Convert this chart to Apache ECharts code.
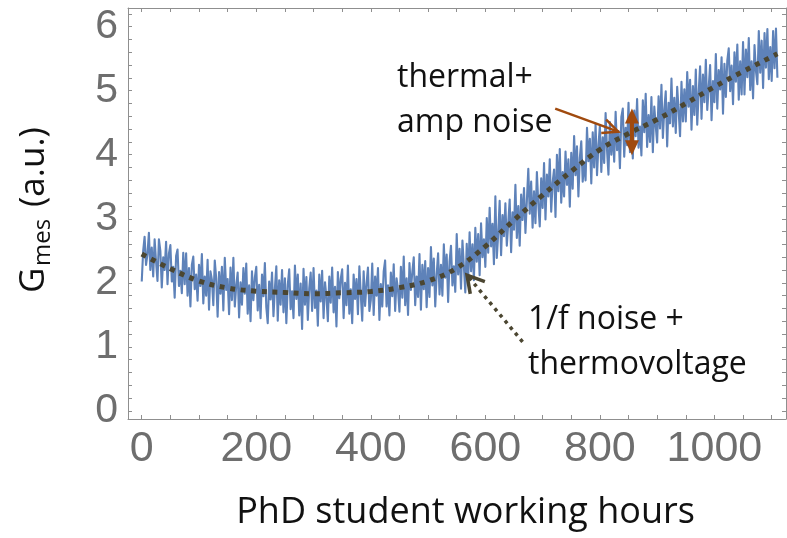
<!DOCTYPE html>
<html>
<head>
<meta charset="utf-8">
<script src="https://cdn.jsdelivr.net/npm/echarts@6/dist/echarts.min.js"></script>
<style>
  html, body { margin: 0; padding: 0; background: #ffffff; }
  #chart { width: 787px; height: 538px; }
</style>
</head>
<body>
<div id="chart"></div>
<script>
// Measured signal, one sample every 2.5 working hours starting at hour 0
const sampleStart = 0;
const sampleStep = 2.5;
const measured = [
  2.02, 2.50, 2.72, 2.28, 2.45, 2.78, 2.20, 2.55, 2.10, 2.68,
  2.33, 2.03, 2.68, 2.50, 1.93, 2.40, 2.20, 2.64, 1.98, 2.46,
  2.59, 2.02, 2.25, 1.77, 2.42, 2.52, 1.95, 2.19, 1.84, 2.47,
  1.98, 2.46, 1.80, 2.23, 1.63, 2.28, 2.41, 1.90, 2.13, 1.72,
  2.28, 1.95, 2.45, 1.68, 2.10, 1.80, 2.36, 1.58, 2.18, 2.05,
  1.65, 2.35, 2.07, 1.47, 2.17, 1.83, 2.25, 1.57, 2.39, 1.89,
  2.06, 1.51, 2.24, 1.73, 2.39, 1.63, 1.96, 2.16, 1.46, 2.01,
  1.66, 2.23, 1.83, 2.30, 1.52, 1.96, 1.40, 2.18, 1.73, 2.08,
  2.25, 1.57, 1.97, 1.45, 2.13, 1.79, 2.31, 1.62, 1.37, 2.02,
  1.74, 2.16, 1.48, 1.91, 2.26, 1.41, 2.04, 1.66, 2.20, 1.54,
  2.07, 1.37, 1.97, 2.21, 1.59, 1.87, 1.45, 2.27, 1.75, 2.13,
  1.49, 1.99, 1.28, 2.22, 1.66, 2.09, 1.42, 1.92, 2.16, 1.56,
  2.23, 1.61, 1.88, 1.33, 2.13, 1.71, 2.19, 1.45, 2.01, 1.78,
  1.40, 2.10, 1.69, 2.24, 1.54, 1.94, 1.32, 2.17, 1.76, 2.06,
  2.21, 1.45, 2.00, 1.65, 2.27, 1.52, 1.90, 1.37, 2.13, 1.75,
  2.06, 1.51, 2.26, 1.81, 1.41, 2.18, 1.64, 1.98, 2.24, 1.56,
  1.73, 2.30, 1.50, 2.10, 1.80, 2.23, 1.42, 1.98, 1.63, 2.18,
  2.35, 1.63, 1.96, 1.49, 2.16, 1.79, 2.29, 1.56, 2.07, 1.89,
  1.55, 2.25, 1.77, 2.41, 1.65, 2.07, 1.50, 2.31, 1.89, 2.17,
  2.40, 1.65, 2.10, 1.78, 2.45, 1.58, 2.28, 1.90, 2.34, 1.62,
  2.23, 1.78, 2.56, 1.96, 2.38, 1.63, 2.13, 2.46, 1.82, 2.28,
  1.80, 2.60, 2.08, 2.44, 1.70, 2.33, 2.58, 1.96, 2.26, 1.86,
  2.76, 2.13, 2.53, 1.91, 2.66, 2.26, 1.85, 2.61, 2.06, 2.79,
  2.18, 2.60, 2.04, 2.86, 2.33, 2.76, 2.12, 2.93, 2.40, 2.68,
  2.25, 3.01, 2.47, 3.17, 2.57, 2.92, 2.29, 3.35, 2.39, 2.77,
  3.28, 2.43, 3.06, 2.73, 3.24, 2.58, 2.93, 3.30, 2.48, 3.10,
  2.83, 3.53, 2.70, 3.20, 2.58, 3.38, 2.98, 3.48, 2.78, 3.28,
  3.78, 3.08, 3.58, 2.86, 3.43, 2.93, 3.73, 3.23, 2.88, 3.63,
  3.17, 3.87, 2.99, 3.69, 3.35, 3.93, 3.11, 3.57, 3.77, 3.03,
  4.00, 3.43, 4.09, 3.25, 3.73, 3.35, 4.05, 3.53, 3.93, 3.19,
  4.03, 3.47, 4.29, 3.68, 4.13, 3.35, 3.95, 4.21, 3.58, 3.88,
  3.60, 4.42, 3.90, 4.25, 3.55, 4.35, 3.80, 4.48, 3.68, 4.15,
  4.45, 3.73, 4.27, 3.87, 4.65, 4.07, 3.69, 4.51, 4.00, 4.37,
  3.89, 4.67, 4.07, 4.37, 3.79, 4.59, 4.72, 3.97, 4.42, 4.15,
  4.81, 4.04, 4.59, 3.94, 4.69, 4.29, 4.87, 4.11, 4.44, 3.99,
  4.85, 4.35, 4.95, 4.12, 4.62, 4.20, 4.90, 4.04, 4.75, 4.45,
  4.19, 4.91, 4.41, 5.09, 4.26, 4.71, 4.99, 4.13, 4.81, 4.49,
  5.19, 4.44, 4.89, 4.34, 5.06, 4.69, 4.29, 5.14, 4.52, 5.02,
  4.52, 5.29, 4.75, 5.17, 4.39, 5.07, 4.62, 5.33, 4.47, 4.97,
  5.38, 4.56, 5.25, 4.82, 5.48, 4.70, 5.05, 5.40, 4.54, 5.15,
  4.82, 5.57, 4.72, 5.32, 5.02, 5.52, 4.64, 5.42, 4.90, 5.47,
  5.66, 4.99, 5.39, 4.79, 5.60, 5.14, 5.72, 4.86, 5.46, 4.94,
  5.76, 4.94, 5.64, 5.21, 5.82, 5.01, 5.46, 4.88, 5.71, 5.31,
  5.10, 5.93, 5.28, 5.78, 5.04, 5.90, 5.36, 5.96, 5.18, 5.68,
  5.15, 5.93, 5.35, 5.97, 5.20
];

// Slow drift (1/f noise + thermovoltage)
const trendHours  = [0, 50, 100, 150, 200, 250, 300, 350, 400, 450, 500, 550,
                     600, 650, 700, 750, 800, 850, 900, 950, 1000, 1050, 1100, 1110];
const trendValues = [2.45, 2.22, 2.03, 1.92, 1.87, 1.85, 1.83, 1.845, 1.865, 1.925, 2.03, 2.23,
                     2.57, 2.98, 3.37, 3.74, 4.08, 4.33, 4.55, 4.80, 5.06, 5.30, 5.53, 5.575];

// Axis ticks
const xTickLabels = [0, 200, 400, 600, 800, 1000];
const xTickMarks = [0, 50, 100, 150, 200, 250, 300, 350, 400, 450, 500, 550,
                    600, 650, 700, 750, 800, 850, 900, 950, 1000, 1050, 1100];
const yTickLabels = [0, 1, 2, 3, 4, 5, 6];
const yTickMarks = [0, 0.2, 0.4, 0.6, 0.8, 1, 1.2, 1.4, 1.6, 1.8, 2, 2.2, 2.4, 2.6, 2.8,
                    3, 3.2, 3.4, 3.6, 3.8, 4, 4.2, 4.4, 4.6, 4.8, 5, 5.2, 5.4, 5.6, 5.8, 6, 6.2];

// Annotation anchors in data coordinates
const ampArrow = { from: [722, 4.72], to: [832, 4.36] };
const ampSpan = { hour: 856, top: 4.72, bottom: 3.99 };
const driftArrow = { from: [665, 1.08], to: [568, 2.12] };

const frameColor = '#8f8f8f';
const tickFont = 'Liberation Sans';
const textFont = '"Open Sans"';
const brown = '#a04a0e';
const olive = '#4b4631';

const chart = echarts.init(document.getElementById('chart'), null, { renderer: 'canvas' });

const frameLine = { show: true, onZero: false, lineStyle: { color: frameColor, width: 1 } };
const xRange = { min: -24, max: 1125 };
const yRange = { min: -0.125, max: 6.29 };

function xAxisDef(position, withLabels) {
  return Object.assign({
    type: 'value', position: position,
    axisLine: frameLine,
    axisTick: { show: true, inside: true, length: 4, customValues: xTickMarks,
                lineStyle: { color: frameColor, width: 1 } },
    axisLabel: withLabels ? {
      show: true, customValues: xTickLabels, fontFamily: tickFont, fontSize: 43,
      color: '#6e6e6e', margin: 9, formatter: (v) => String(v)
    } : { show: false },
    splitLine: { show: false }
  }, xRange);
}
function yAxisDef(position, withLabels) {
  return Object.assign({
    type: 'value', position: position,
    axisLine: frameLine,
    axisTick: { show: true, inside: true, length: 4, customValues: yTickMarks,
                lineStyle: { color: frameColor, width: 1 } },
    axisLabel: withLabels ? {
      show: true, customValues: yTickLabels, fontFamily: tickFont, fontSize: 41,
      color: '#6e6e6e', margin: 10, formatter: (v) => String(v)
    } : { show: false },
    splitLine: { show: false }
  }, yRange);
}

chart.setOption({
  animation: false,
  backgroundColor: '#ffffff',
  grid: { left: 128, right: 1, top: 8, bottom: 119, outerBoundsMode: 'none' },
  xAxis: [xAxisDef('bottom', true), xAxisDef('top', false)],
  yAxis: [yAxisDef('left', true), yAxisDef('right', false)],
  series: [
    {
      name: 'measured', type: 'line',
      data: measured.map((v, i) => [sampleStart + i * sampleStep, v]),
      showSymbol: false, symbol: 'none',
      lineStyle: { color: '#5e82b9', width: 2.1, join: 'round' },
      z: 2
    },
    {
      name: 'drift', type: 'line',
      data: trendHours.map((h, i) => [h, trendValues[i]]),
      smooth: 0.4, showSymbol: false, symbol: 'none',
      lineStyle: { color: olive, width: 5, type: [5, 5.6], cap: 'butt' },
      z: 3
    }
  ]
});

// Annotations placed relative to the data coordinates
function px(p) { return chart.convertToPixel({ gridIndex: 0 }, p); }
function arrowWings(tip, tail, len, angleDeg) {
  const a = Math.atan2(tail[1] - tip[1], tail[0] - tip[0]);
  const d = angleDeg * Math.PI / 180;
  return [
    [tip[0] + len * Math.cos(a + d), tip[1] + len * Math.sin(a + d)],
    tip,
    [tip[0] + len * Math.cos(a - d), tip[1] + len * Math.sin(a - d)]
  ];
}

const ampFrom = px(ampArrow.from), ampTo = px(ampArrow.to);
const spanTop = px([ampSpan.hour, ampSpan.top]), spanBot = px([ampSpan.hour, ampSpan.bottom]);
const driftFrom = px(driftArrow.from), driftTo = px(driftArrow.to);
const headH = 15, headW = 7;

function label(text, x, y, size, align) {
  return {
    type: 'text', silent: true, z: 10,
    style: { text: text, x: x, y: y, font: size + 'px ' + textFont, fill: '#111111',
             align: align || 'left', verticalAlign: 'middle',
             textAlign: align || 'left', textVerticalAlign: 'middle' }
  };
}

chart.setOption({
  graphic: [
    // brown arrow pointing at the fast noise
    { type: 'polyline', silent: true, z: 10,
      shape: { points: [ampFrom, ampTo] },
      style: { stroke: brown, lineWidth: 2.5, fill: null } },
    { type: 'polyline', silent: true, z: 10,
      shape: { points: arrowWings(ampTo, ampFrom, 17, 25) },
      style: { stroke: brown, lineWidth: 2.5, fill: null, lineJoin: 'miter' } },
    // double-headed amplitude marker
    { type: 'line', silent: true, z: 10,
      shape: { x1: spanTop[0], y1: spanTop[1] + headH - 1, x2: spanBot[0], y2: spanBot[1] - headH + 1 },
      style: { stroke: brown, lineWidth: 4 } },
    { type: 'polygon', silent: true, z: 10,
      shape: { points: [[spanTop[0], spanTop[1]], [spanTop[0] - headW, spanTop[1] + headH], [spanTop[0] + headW, spanTop[1] + headH]] },
      style: { fill: brown } },
    { type: 'polygon', silent: true, z: 10,
      shape: { points: [[spanBot[0], spanBot[1]], [spanBot[0] - headW, spanBot[1] - headH], [spanBot[0] + headW, spanBot[1] - headH]] },
      style: { fill: brown } },
    // dotted arrow pointing at the slow drift
    { type: 'line', silent: true, z: 10,
      shape: { x1: driftFrom[0], y1: driftFrom[1], x2: driftTo[0], y2: driftTo[1] },
      style: { stroke: olive, lineWidth: 3.5, lineDash: [3.5, 4.5] } },
    { type: 'polyline', silent: true, z: 10,
      shape: { points: arrowWings(driftTo, driftFrom, 19, 30) },
      style: { stroke: olive, lineWidth: 3.5, fill: null, lineJoin: 'miter' } },
    // annotation texts
    label('thermal+', 397, 77.6, 32),
    label('amp noise', 397, 122.6, 32),
    label('1/f noise +', 528, 319.6, 32),
    label('thermovoltage', 528, 364.6, 32),
    // axis titles
    label('PhD student working hours', 465.5, 513, 36, 'center'),
    {
      type: 'group', x: 48, y: 293, rotation: Math.PI / 2, silent: true,
      children: [
        label('G', 0, -13.6, 35),
        label('mes', 27, -5.3, 24),
        label('(a.u.)', 86, -13.6, 35)
      ]
    }
  ]
});
</script>
</body>
</html>
